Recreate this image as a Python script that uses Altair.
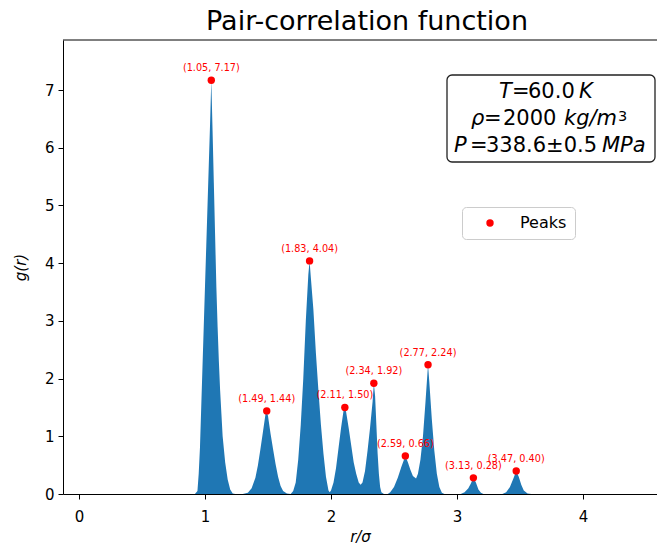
import altair as alt
import pandas as pd

# ---- data ----
r_curve = [0.00, 0.90, 0.92, 0.94, 0.95, 0.96, 0.97, 0.98, 0.99, 1.00, 1.01, 1.02, 1.03, 1.04,
           1.05, 1.06, 1.07, 1.08, 1.09, 1.10, 1.11, 1.12, 1.13, 1.14, 1.16, 1.18, 1.20, 1.22, 1.24,
           1.30, 1.34, 1.37, 1.40, 1.42, 1.44, 1.46, 1.48, 1.49, 1.50, 1.52, 1.54, 1.56, 1.58, 1.60,
           1.62, 1.65, 1.68,
           1.70, 1.72, 1.74, 1.76, 1.78, 1.80, 1.82, 1.83, 1.84, 1.86, 1.88, 1.90, 1.92, 1.94, 1.96, 1.98,
           1.99, 2.00, 2.02, 2.04, 2.06, 2.08, 2.10, 2.11, 2.12, 2.14, 2.16, 2.18, 2.20, 2.22, 2.235,
           2.25, 2.27, 2.29, 2.31, 2.33, 2.34, 2.35, 2.36, 2.37, 2.38, 2.39, 2.40, 2.42,
           2.45, 2.47, 2.50, 2.53, 2.56, 2.59, 2.61, 2.63, 2.65, 2.675,
           2.69, 2.71, 2.73, 2.75, 2.77, 2.78, 2.80, 2.82, 2.84, 2.86, 2.88, 2.90,
           3.03, 3.06, 3.09, 3.11, 3.13, 3.15, 3.17, 3.19, 3.21,
           3.36, 3.39, 3.42, 3.45, 3.47, 3.49, 3.51, 3.53, 3.56, 3.59, 4.50]
g_curve = [0.00, 0.00, 0.00, 0.05, 0.35, 0.80, 1.50, 2.20, 2.90, 3.60, 4.30, 5.00, 5.70, 6.40,
           7.17, 6.30, 5.40, 4.50, 3.60, 2.90, 2.30, 1.80, 1.40, 1.00, 0.55, 0.25, 0.08, 0.01, 0.00,
           0.00, 0.02, 0.10, 0.28, 0.50, 0.78, 1.08, 1.38, 1.44, 1.35, 1.05, 0.78, 0.52, 0.30, 0.14,
           0.05, 0.01, 0.00,
           0.05, 0.20, 0.60, 1.20, 2.00, 3.00, 3.80, 4.04, 3.75, 3.20, 2.45, 1.80, 1.20, 0.70, 0.30, 0.06,
           0.03, 0.06, 0.20, 0.45, 0.80, 1.15, 1.45, 1.50, 1.42, 1.15, 0.85, 0.55, 0.35, 0.20, 0.16,
           0.20, 0.40, 0.75, 1.15, 1.60, 1.92, 1.70, 1.20, 0.70, 0.35, 0.12, 0.03, 0.00,
           0.00, 0.03, 0.12, 0.28, 0.48, 0.66, 0.55, 0.42, 0.31, 0.27,
           0.35, 0.60, 1.00, 1.60, 2.24, 1.95, 1.30, 0.75, 0.35, 0.12, 0.02, 0.00,
           0.00, 0.03, 0.10, 0.18, 0.28, 0.20, 0.08, 0.02, 0.00,
           0.00, 0.03, 0.12, 0.28, 0.40, 0.30, 0.16, 0.06, 0.01, 0.00, 0.00]

peak_r = [1.05, 1.49, 1.83, 2.11, 2.34, 2.59, 2.77, 3.13, 3.47]
peak_g = [7.17, 1.44, 4.04, 1.50, 1.92, 0.66, 2.24, 0.28, 0.40]

x_ticks = [0, 1, 2, 3, 4]
y_ticks = [0, 1, 2, 3, 4, 5, 6, 7]

TITLE = "Pair-correlation function"

# info box segments: (x, y, text, italic, size)
box_lines = [
    (436, 58, "T", True, 21), (449, 58, "=", False, 21), (465, 58, "60.0", False, 21), (516, 58, "K", True, 21),
    (408, 85, "ρ", True, 21), (421, 85, "=", False, 21), (440, 85, "2000", False, 21), (501, 85, "kg/m", True, 21),
    (555, 81, "3", False, 14.5),
    (391, 112, "P", True, 21), (407, 112, "=", False, 21), (423, 112, "338.6±0.5", False, 21), (539, 112, "MPa", True, 21),
]

FONT = "DejaVu Sans"
W, H = 594, 454

curve = pd.DataFrame({"r": r_curve, "g": g_curve})
peaks = pd.DataFrame({
    "r": peak_r,
    "g": peak_g,
    "label": [f"({a:.2f}, {b:.2f})" for a, b in zip(peak_r, peak_g)],
    "series": ["Peaks"] * len(peak_r),
})

xscale = alt.Scale(domain=[-0.127, -0.127 + W / 126.0], nice=False, zero=False)
yscale = alt.Scale(domain=[0, 7.868], nice=False)

area = alt.Chart(curve).mark_area(color="#1f77b4", interpolate="linear", opacity=1).encode(
    x=alt.X("r:Q", scale=xscale,
            axis=alt.Axis(values=x_ticks, title="r/σ", format="d", labelPadding=10, titlePadding=5)),
    y=alt.Y("g:Q", scale=yscale,
            axis=alt.Axis(values=y_ticks, title="g(r)", format="d", labelPadding=4, titlePadding=16)),
)

one = pd.DataFrame({"a": [0]})
top_spine = alt.Chart(one).mark_rule(color="black", strokeWidth=1).encode(
    x=alt.value(0), x2=alt.value(W), y=alt.value(0)
)

title_text = alt.Chart(one).mark_text(
    text=TITLE, align="center", baseline="alphabetic", font=FONT, fontSize=27, color="black"
).encode(x=alt.value(304), y=alt.value(-10))

box = alt.Chart(one).mark_rect(fill="white", stroke="#222222", strokeWidth=1.3, cornerRadius=5).encode(
    x=alt.value(384), x2=alt.value(592), y=alt.value(35), y2=alt.value(122)
)

texts = []
for (px, py, t, ital, size) in box_lines:
    texts.append(
        alt.Chart(one).mark_text(
            text=t, align="left", baseline="alphabetic", font=FONT, fontSize=size,
            fontStyle="italic" if ital else "normal", color="black"
        ).encode(x=alt.value(px), y=alt.value(py))
    )

points = alt.Chart(peaks).mark_circle(size=55, opacity=1).encode(
    x=alt.X("r:Q", scale=xscale),
    y=alt.Y("g:Q", scale=yscale),
    color=alt.Color("series:N", scale=alt.Scale(domain=["Peaks"], range=["red"]),
                    legend=alt.Legend(title=None, orient="none", legendX=399, legendY=167,
                                      fillColor="white", strokeColor="#cccccc", cornerRadius=4,
                                      padding=8, labelFontSize=16, labelFont=FONT, labelColor="black",
                                      symbolType="circle", symbolSize=55, symbolStrokeWidth=0,
                                      symbolOffset=12, labelOffset=22)),
)

labels = alt.Chart(peaks).mark_text(color="red", fontSize=9.7, font=FONT, dy=-9,
                                    baseline="alphabetic", align="center").encode(
    x=alt.X("r:Q", scale=xscale),
    y=alt.Y("g:Q", scale=yscale),
    text="label:N",
)

chart = alt.layer(area, top_spine, title_text, box, *texts, points, labels).properties(
    width=W, height=H,
    autosize=alt.AutoSizeParams(type="none"),
    padding={"left": 55, "top": 32, "right": 0, "bottom": 50},
).configure_view(strokeWidth=0).configure_axis(
    grid=False, domainColor="black", domainWidth=1, tickColor="black", tickWidth=1, tickSize=5,
    labelColor="black", labelFont=FONT, labelFontSize=15,
    titleFont=FONT, titleFontSize=15, titleFontStyle="italic", titleFontWeight="normal",
    titleColor="black",
)

chart.save("out.html", embed_options={"renderer": "svg", "actions": False})
